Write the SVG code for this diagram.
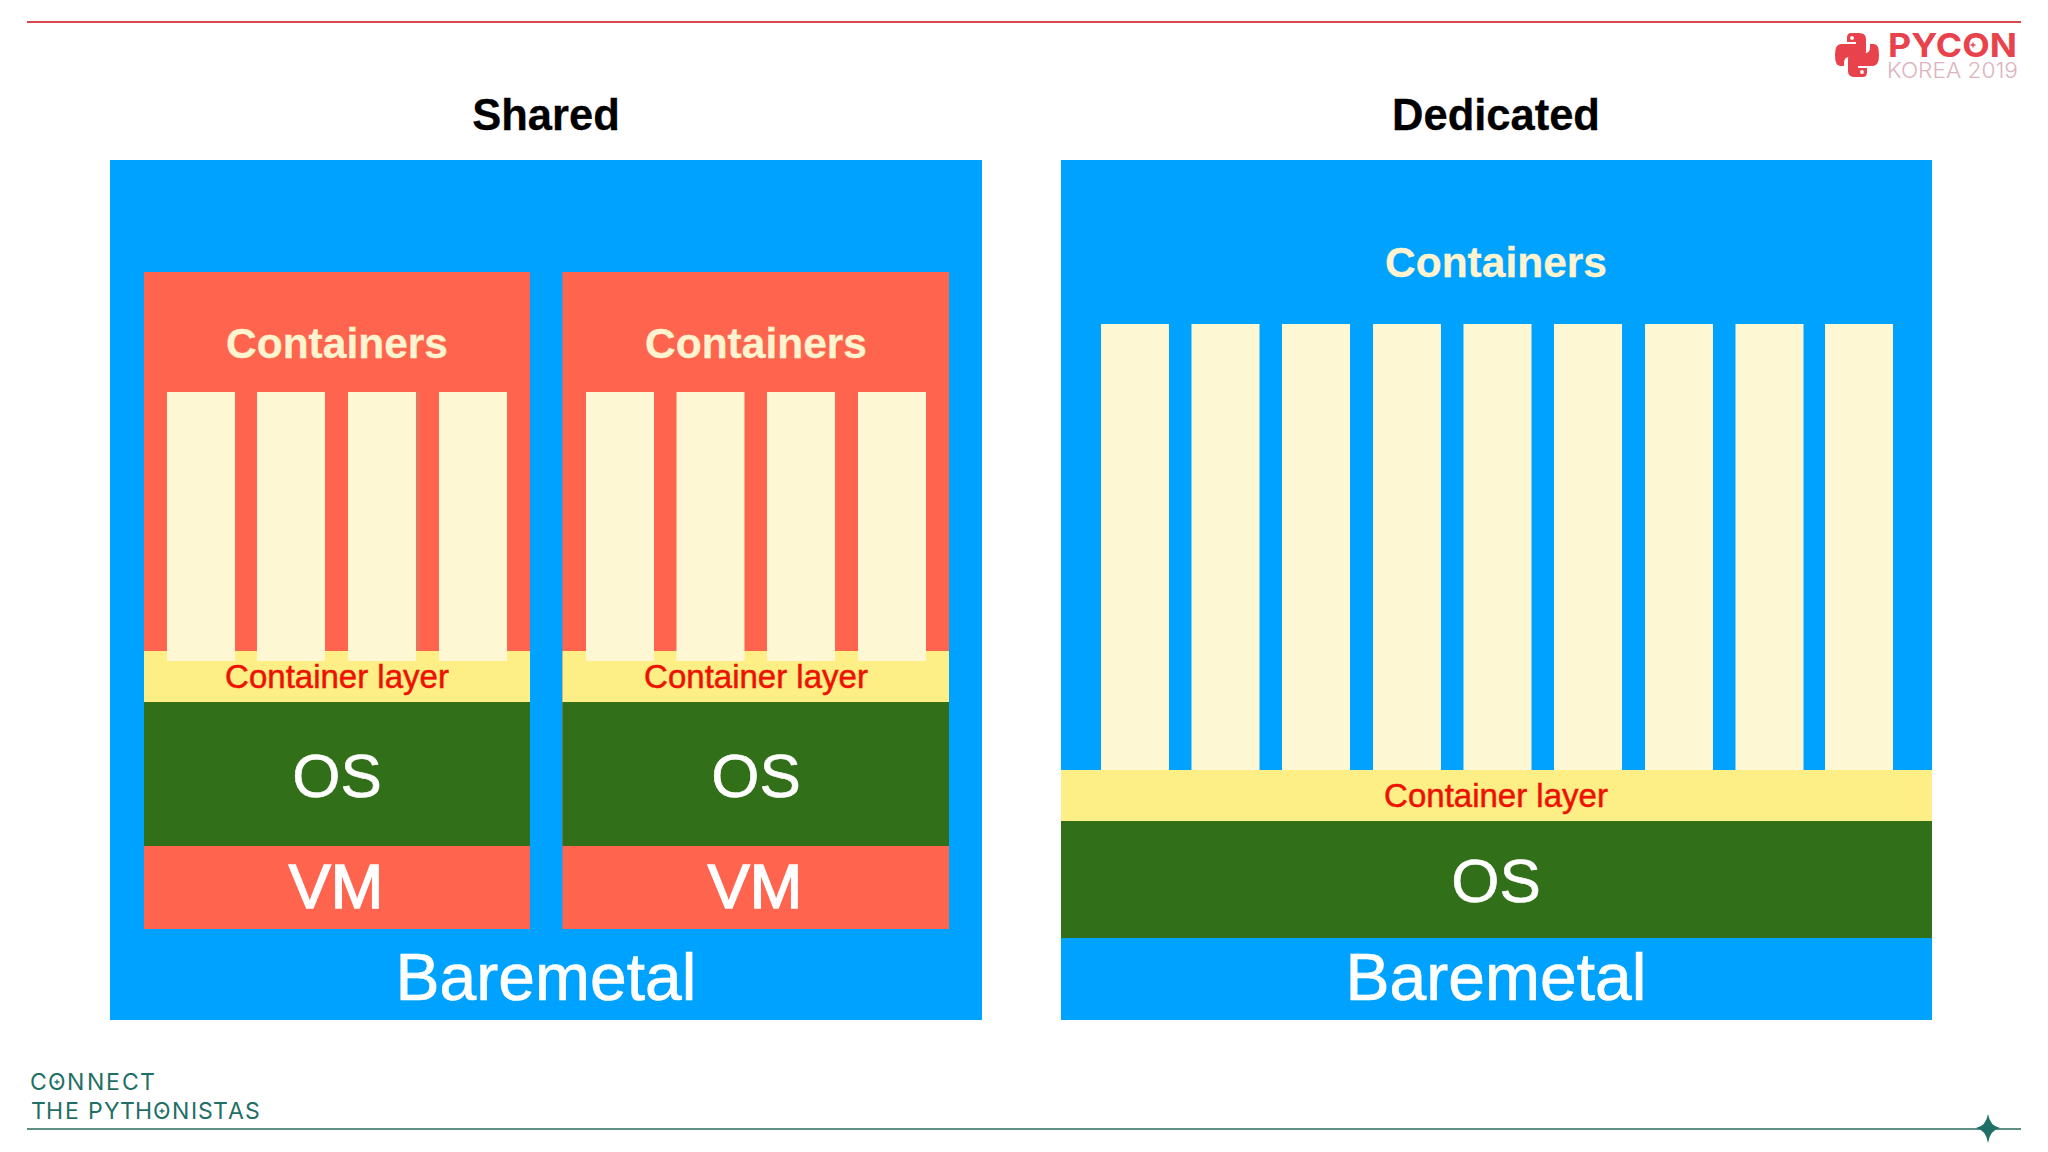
<svg xmlns="http://www.w3.org/2000/svg" width="2048" height="1152" viewBox="0 0 2048 1152">
<style>
text{font-family:"Liberation Sans",Arial,sans-serif;text-anchor:middle}
.blue{fill:#00a2ff}.red{fill:#ff644e}.green{fill:#326f19}.yellow{fill:#fdee86}.cream{fill:#fdf7d3}
.title{font-size:43.500px;font-weight:700;fill:#000;stroke:#000;stroke-width:.3px}
.cont{font-size:42.500px;font-weight:700;fill:#fff4cf;stroke:#fff4cf;stroke-width:.3px}
.layer{font-size:33px;fill:#ee1100;stroke:#ee1100;stroke-width:.5px}
.os{font-size:62px;fill:#fff;stroke:#fff;stroke-width:.6px}
.vm{font-size:63px;fill:#fff;stroke:#fff;stroke-width:1.6px}
.bare{font-size:66px;fill:#fff;stroke:#fff;stroke-width:.7px}
.brand{text-anchor:start;font-family:"Inter","Liberation Sans",sans-serif}
.foot{font-size:23px;fill:#1f6f66}
</style>
<defs>
<rect id="c" class="cream" y="392" width="68" height="269"/>
<rect id="d" class="cream" y="324" width="68" height="446"/>
<path id="snake" d="M16 0H24Q31 0 31 6V18Q31 24 25 24H14Q9 24 9 30V33H5Q0 33 0 22Q0 11 6 11H21V9H12V5Q12 0 16 0Z"/>
<path id="plus" d="M-2.500 0H2.500M0 -2.500V2.500" fill="none" stroke-width="1.300"/>
</defs>
<rect width="2048" height="1152" fill="#fff"/>

<g id="frame">
<rect x="27" y="21" width="1994" height="2" fill="#d9484f"/>
<rect x="27" y="1128" width="1994" height="2" fill="#5f8f85"/>
<path d="M1988 1114Q1990 1126 2000 1128Q1990 1130 1988 1143Q1986 1130 1976 1128Q1986 1126 1988 1114Z" fill="#1f6f66"/>
</g>

<g id="logo">
<g transform="translate(1835 33)" fill="#e8434c">
<use href="#snake"/><circle cx="17" cy="5" r="1.900" fill="#fff"/>
<g transform="rotate(180 22 22)"><use href="#snake"/><circle cx="17" cy="5" r="1.900" fill="#fff"/></g>
</g>
<text class="brand" x="1888" y="57" font-size="33" font-weight="700" fill="#e8434c" textLength="129" lengthAdjust="spacingAndGlyphs">PYCON</text>
<use href="#plus" x="1973" y="45" stroke="#e8434c"/>
<text class="brand" x="1887" y="78" font-size="21" font-weight="300" fill="#dcb4c0" textLength="131" lengthAdjust="spacingAndGlyphs">KOREA 2019</text>
</g>

<g id="footer">
<text class="brand foot" x="30 48 67 87 106 122 140" y="1090">CONNECT</text>
<text class="brand foot" x="31 46 65 81 88 104 120 135 153 172 191 198 213 228 245" y="1119">THE PYTHONISTAS</text>
<use href="#plus" x="57" y="1082" stroke="#1f6f66"/>
<use href="#plus" x="162" y="1111" stroke="#1f6f66"/>
</g>

<text id="title-shared" class="title" x="546" y="129.500">Shared</text>
<text id="title-dedicated" class="title" x="1496" y="129.500">Dedicated</text>

<g id="shared">
<rect class="blue" x="110" y="160" width="872" height="860"/>
<text class="bare" x="546" y="1000">Baremetal</text>
<g id="vm1">
<rect class="red" x="144" y="272" width="386" height="657"/>
<rect class="yellow" x="144" y="651" width="386" height="51"/>
<rect class="green" x="144" y="702" width="386" height="144"/>
<use href="#c" x="167"/><use href="#c" x="257"/><use href="#c" x="348"/><use href="#c" x="439"/>
<rect x="416" y="392" width="3" height="259" fill="#c98a70" opacity=".5"/>
<text class="cont" x="337" y="358">Containers</text>
<text class="layer" x="337" y="688">Container layer</text>
<text class="os" x="337" y="797">OS</text>
<text class="vm" x="336" y="908">VM</text>
</g>
<g id="vm2">
<rect class="red" x="562.500" y="272" width="386.500" height="657"/>
<rect class="yellow" x="562.500" y="651" width="386.500" height="51"/>
<rect class="green" x="562.500" y="702" width="386.500" height="144"/>
<use href="#c" x="586"/><use href="#c" x="676.500"/><use href="#c" x="767"/><use href="#c" x="858"/>
<text class="cont" x="756" y="358">Containers</text>
<text class="layer" x="756" y="688">Container layer</text>
<text class="os" x="756" y="797">OS</text>
<text class="vm" x="755" y="908">VM</text>
</g>
</g>

<g id="dedicated">
<rect class="blue" x="1061" y="160" width="871" height="860"/>
<rect class="yellow" x="1061" y="770" width="871" height="51"/>
<rect class="green" x="1061" y="821" width="871" height="117"/>
<use href="#d" x="1101"/><use href="#d" x="1191.500"/><use href="#d" x="1282"/><use href="#d" x="1373"/><use href="#d" x="1463.500"/><use href="#d" x="1554"/><use href="#d" x="1645"/><use href="#d" x="1735.500"/><use href="#d" x="1825"/>
<text class="cont" x="1496" y="277">Containers</text>
<text class="layer" x="1496" y="807">Container layer</text>
<text class="os" x="1496" y="902">OS</text>
<text class="bare" x="1496" y="1000">Baremetal</text>
</g>
</svg>
